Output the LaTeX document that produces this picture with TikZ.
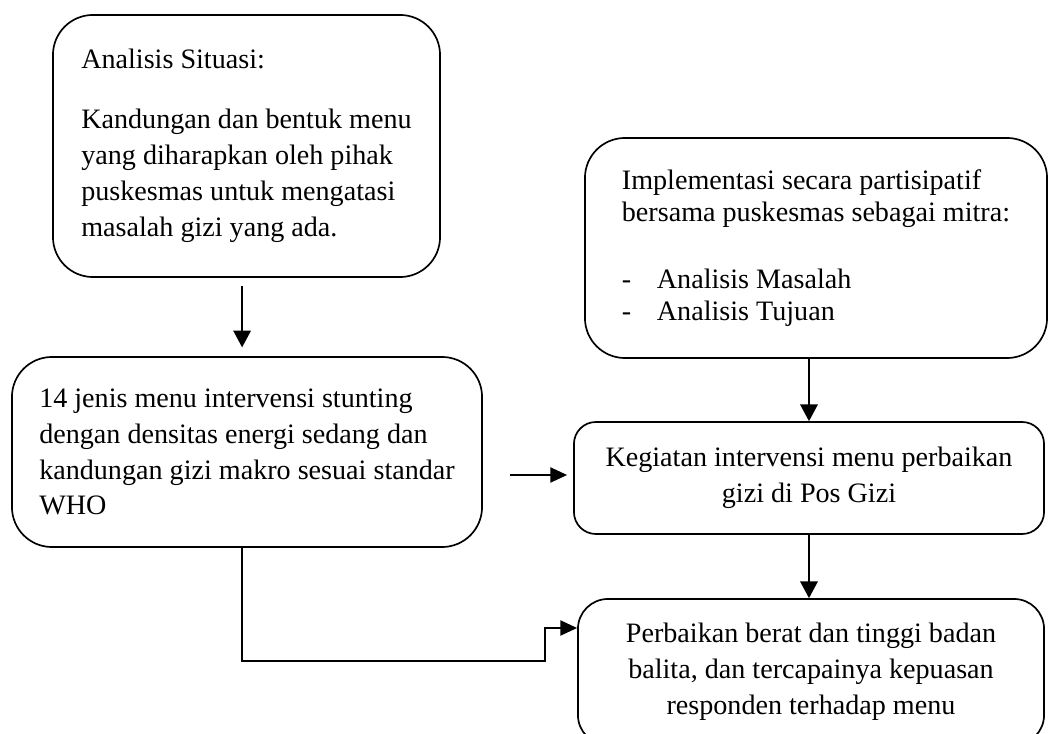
\documentclass[tikz,border=0pt]{standalone}
\usepackage{fontspec}
\setmainfont{Liberation Serif}
\usetikzlibrary{arrows.meta}

\begin{document}
\begin{tikzpicture}[x = 0.025cm, y = -0.025cm,
    box/.style = {draw, line width = 1.2pt, rounded corners = 1cm, align = left,
        font = \fontsize{20}{25.5}\selectfont},
    arr/.style = {line width = 1.2pt, -{Triangle[length = 0.42cm, width = 0.44cm]}}]
        \clip (0,0) rectangle (1048,734);
        \node[box, minimum width = 9.675cm, minimum height = 6.55cm] (situasi) at (246.5,146)
            {Analisis Situasi:\\[0.6cm] Kandungan dan bentuk menu\\ yang diharapkan oleh pihak\\
             puskesmas untuk mengatasi\\ masalah gizi yang ada.};
        \node[box, rounded corners = 1cm, font = \fontsize{20}{23}\selectfont,
            minimum width = 11.55cm, minimum height = 5.5cm] (implementasi) at (816,248)
            {Implementasi secara partisipatif\\ bersama puskesmas sebagai mitra:\\[0.85cm]
             \makebox[0.875cm][l]{-}Analisis Masalah\\ \makebox[0.875cm][l]{-}Analisis Tujuan};
        \node[box, minimum width = 11.75cm, minimum height = 4.75cm] (menu) at (247,452)
            {14 jenis menu intervensi stunting\\ dengan densitas energi sedang dan\\
             kandungan gizi makro sesuai standar\\ WHO};
        \node[box, rounded corners = 0.55cm, align = center,
            minimum width = 11.75cm, minimum height = 2.8cm] (kegiatan) at (809,478)
            {Kegiatan intervensi menu perbaikan\\ gizi di Pos Gizi};
        \node[box, rounded corners = 0.75cm, align = center,
            minimum width = 11.65cm, minimum height = 3.65cm] (hasil) at (811,672)
            {Perbaikan berat dan tinggi badan\\ balita, dan tercapainya kepuasan\\
             responden terhadap menu};
        \coordinate (masuk) at (510,475);
        \coordinate (belok) at (545,628);
        \draw[arr, shorten <= 0.2cm, shorten >= 0.22cm]
            ([xshift = -0.11cm]situasi.south) -- ([xshift = -0.11cm]situasi.south |- menu.north);
        \draw[arr] (kegiatan.north |- implementasi.south) -- (kegiatan.north);
        \draw[arr, -{Triangle[length = 0.42cm, width = 0.38cm]}, shorten >= 0.15cm]
            (masuk) -- (kegiatan.west |- masuk);
        \draw[arr] (kegiatan.south) -- (kegiatan.south |- hasil.north);
        \draw[arr, -{Triangle[length = 0.42cm, width = 0.38cm]}]
            ([xshift = -0.12cm]menu.south) -- ++(0,113) -| (belok) -- (hasil.west |- belok);
\end{tikzpicture}
\end{document}
